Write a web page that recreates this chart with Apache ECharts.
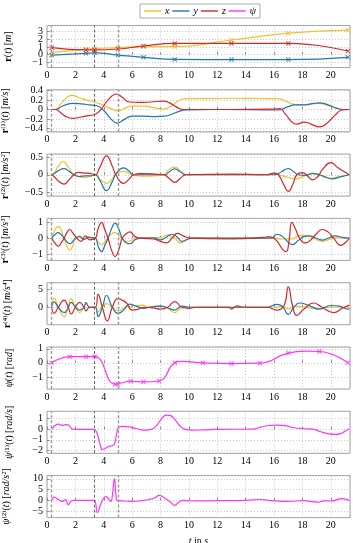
<!DOCTYPE html>
<html>
<head>
<meta charset="utf-8">
<script src="https://cdn.jsdelivr.net/npm/echarts@6/dist/echarts.min.js"></script>
<style>
  html, body { margin: 0; background: #fff; }
  #main { width: 353px; height: 543px; }
</style>
</head>
<body>
<div id="main"></div>
<script>
// waypoint times and values for position
const posTimes = [0.33, 2.75, 3.35, 5.0, 6.8, 9.0, 13.0, 17.0, 21.2];
const posX = [0.24, 0.68, 0.77, 0.9, 1.03, 1.03, 1.9, 2.8, 3.2];
const posY = [-0.07, 0.15, 0.22, -0.07, -0.37, -0.64, -0.66, -0.66, -0.37];
const posZ = [0.9, 0.6, 0.6, 0.72, 1.12, 1.45, 1.45, 1.45, 0.46];

// yaw waypoints
const yawTimes = [0.33, 1.6, 2.75, 3.35, 4.8, 5.0, 5.9, 6.8, 7.9, 9.0, 11.0, 13.0, 15.0, 17.0, 19.2, 21.2];
const yawVals = [0, 0.44, 0.44, 0.46, -1.52, -1.5, -1.31, -1.35, -1.29, 0, 0, -0.05, -0.02, 0.7, 0.81, 0];
const yawExtra = [[9.5, 0.1], [18.2, 0.83]];

// velocity
const velX = [[0.33,0],[0.6,0],[1.0,0.13],[1.4,0.26],[1.75,0.3],[2.3,0.25],[2.8,0.2],[3.35,0.16],[3.9,0.1],[4.5,0.02],[5.0,-0.03],[5.5,0.03],[6.1,0.07],[6.8,0.07],[7.5,0.04],[8.2,0.01],[8.7,0.06],[9.2,0.17],[9.7,0.23],[11,0.23],[13,0.24],[15,0.235],[16.3,0.23],[16.8,0.18],[17.4,0.11],[18,0.1],[18.6,0.12],[19.2,0.13],[19.7,0.1],[20.3,0.04],[20.8,0],[21.3,0]];
const velY = [[0.33,0],[0.6,0],[1.0,0.06],[1.4,0.11],[1.8,0.13],[2.4,0.12],[3.0,0.1],[3.5,0.08],[4.0,-0.02],[4.5,-0.2],[4.95,-0.29],[5.4,-0.22],[6.0,-0.14],[6.8,-0.14],[7.6,-0.15],[8.3,-0.14],[8.8,-0.1],[9.3,-0.04],[9.8,-0.01],[12,0],[16.3,-0.01],[16.9,0.05],[17.5,0.1],[18.2,0.1],[18.8,0.13],[19.2,0.14],[19.8,0.1],[20.4,0.03],[20.9,0],[21.3,0]];
const velZ = [[0.33,0],[0.6,0],[1.0,-0.08],[1.4,-0.16],[1.8,-0.19],[2.4,-0.16],[2.9,-0.13],[3.4,-0.1],[3.8,0],[4.3,0.2],[4.9,0.33],[5.3,0.26],[5.8,0.16],[6.5,0.15],[7.3,0.16],[8.2,0.18],[8.7,0.13],[9.2,0.04],[9.6,0],[13,0],[16,0.01],[16.4,0.02],[16.8,-0.1],[17.3,-0.28],[17.6,-0.31],[18.1,-0.27],[18.6,-0.31],[19.2,-0.37],[19.7,-0.3],[20.3,-0.12],[20.8,-0.01],[21.3,0]];

// acceleration
const accX = [[0.33,0],[0.5,0.05],[0.8,0.25],[1.15,0.38],[1.5,0.22],[1.9,0],[2.3,-0.06],[2.7,-0.08],[3.0,-0.05],[3.4,0],[3.8,-0.15],[4.2,-0.25],[4.6,-0.12],[4.9,0.05],[5.4,0.1],[5.8,0.04],[6.2,-0.02],[6.7,-0.04],[7.5,-0.03],[8.2,0],[8.6,0.15],[9.0,0.22],[9.4,0.12],[9.8,0],[12,0],[15.5,0],[16,0.04],[16.5,-0.02],[17,-0.08],[17.5,-0.12],[18,-0.06],[18.7,0.05],[19.2,0],[19.6,-0.07],[20,-0.1],[20.5,-0.06],[21.3,0]];
const accY = [[0.33,0],[0.5,0.03],[0.8,0.12],[1.2,0.18],[1.55,0.1],[1.9,0],[2.3,-0.05],[2.7,-0.03],[3.1,-0.03],[3.4,0],[3.7,-0.15],[4.2,-0.46],[4.6,-0.2],[4.9,0.05],[5.4,0.2],[5.8,0.1],[6.1,0],[8.3,0],[8.6,0.08],[9.0,0.17],[9.4,0.08],[9.8,0],[16,0],[16.5,0.08],[17,0.18],[17.4,0.08],[17.7,0],[18.2,-0.02],[18.7,0.03],[19.2,0],[19.7,-0.08],[20.1,-0.12],[20.6,-0.07],[21.3,0]];
const accZ = [[0.33,0],[0.5,-0.05],[0.8,-0.18],[1.2,-0.27],[1.55,-0.15],[1.9,0],[2.2,0.07],[2.6,0.05],[2.9,0.05],[3.4,0],[3.7,0.2],[4.2,0.55],[4.6,0.25],[4.85,0],[5.4,-0.25],[5.8,-0.12],[6.1,0],[6.6,0.03],[8.2,0],[8.6,-0.1],[9.0,-0.22],[9.4,-0.1],[9.8,0],[13,0.02],[15.5,0],[16,0.05],[16.3,0],[16.7,-0.3],[17,-0.48],[17.3,-0.3],[17.6,0],[18,0.06],[18.4,-0.05],[18.7,-0.15],[19.1,-0.05],[19.4,0.15],[20,0.35],[20.5,0.2],[21.3,0]];

// jerk
const jerkX = [[0.33,0],[0.55,0.5],[0.8,0.75],[1.0,0.5],[1.2,0],[1.4,-0.5],[1.6,-0.75],[1.8,-0.5],[2.0,0],[2.3,0.15],[2.6,-0.1],[2.9,0.1],[3.1,0],[3.4,0],[3.6,-0.25],[3.85,-0.4],[4.05,-0.25],[4.25,0],[4.5,0.25],[4.75,0.35],[5.0,0.25],[5.25,0],[5.6,-0.2],[5.9,-0.15],[6.3,0],[7,0.02],[8.0,0.05],[8.5,0.2],[9.0,0],[9.4,-0.3],[9.8,-0.15],[10.1,0],[16,0],[16.5,-0.05],[17.2,-0.05],[17.6,0.1],[18,0.2],[18.5,0.1],[19,-0.1],[19.4,-0.2],[19.8,-0.1],[20.4,0.02],[21.3,0]];
const jerkY = [[0.33,0],[0.55,0.22],[0.8,0.35],[1.0,0.22],[1.2,0],[1.4,-0.22],[1.6,-0.35],[1.8,-0.22],[2.0,0],[2.3,0.1],[2.6,-0.08],[2.9,0.05],[3.4,0],[3.6,-0.5],[3.85,-0.85],[4.05,-0.5],[4.3,0],[4.55,0.6],[4.8,0.95],[5.05,0.6],[5.3,0],[5.6,-0.3],[5.85,-0.35],[6.2,-0.1],[6.6,0],[7.5,0.02],[8.0,-0.1],[8.3,0],[8.8,0.25],[9.2,0.05],[9.5,-0.2],[9.8,-0.1],[10.2,0],[15.8,0],[16.2,0.25],[16.6,0.1],[17.0,-0.25],[17.3,-0.4],[17.7,-0.15],[18.1,0.1],[18.5,0.15],[19,0],[19.4,-0.12],[19.8,0],[20.3,0.15],[20.8,0.05],[21.3,0]];
const jerkZ = [[0.33,0],[0.55,-0.3],[0.8,-0.5],[1.0,-0.3],[1.2,0],[1.4,0.35],[1.6,0.55],[1.8,0.35],[2.1,0],[2.4,-0.2],[2.7,0.15],[3.0,-0.1],[3.4,0],[3.6,0.6],[3.85,1.0],[4.05,0.6],[4.3,0],[4.55,-0.75],[4.8,-1.15],[5.05,-0.75],[5.3,0],[5.6,0.3],[5.85,0.4],[6.2,0.1],[6.6,0],[7.5,-0.05],[8.0,-0.2],[8.4,-0.3],[8.8,0],[9.2,0.3],[9.6,0.15],[10.1,0],[13,-0.05],[15.3,0.05],[15.6,0.1],[16.0,0],[16.3,-0.3],[16.6,-0.7],[16.85,-0.85],[17.05,-0.2],[17.25,1.0],[17.5,0.6],[17.8,0],[18.2,-0.3],[18.6,-0.1],[19.0,0.3],[19.4,0.55],[19.8,0.4],[20.2,0],[20.7,-0.45],[21.0,-0.3],[21.3,0]];

// snap
const snapX = [[0.33,0],[0.5,2.5],[0.8,0],[1.2,-2.7],[1.5,0],[1.7,2.4],[2.0,0],[2.3,-1.5],[2.6,0],[2.75,1.0],[3.0,0],[3.4,0],[3.55,-1.4],[3.85,0],[4.2,1.0],[4.6,0],[5.0,-1.0],[5.3,-0.6],[5.6,0.2],[6.0,0.3],[6.8,0.6],[7.0,0],[7.8,0.4],[8.3,0.2],[9.0,-1.5],[9.5,-0.2],[10.2,0],[16,0],[16.6,0.2],[17.0,-0.5],[17.5,0.3],[18.2,0],[19,-0.4],[20,0],[21.3,0]];
const snapY = [[0.33,0],[0.5,1.5],[0.8,0],[1.2,-1.5],[1.5,0],[1.7,1.4],[2.0,0],[2.3,-0.8],[2.6,0],[2.75,1.3],[3.0,0],[3.4,0],[3.6,-2.6],[3.9,0],[4.2,3.3],[4.6,0],[5.0,-1.7],[5.4,-0.8],[5.8,0.9],[6.3,0.3],[6.8,-0.3],[7.2,0],[8,0.3],[8.5,-0.2],[9.0,-0.8],[9.5,0.3],[10.2,0],[15.5,0],[16.2,0.8],[16.6,0.2],[17.0,-2.0],[17.4,0],[17.8,1.2],[18.5,0.4],[19.2,-0.5],[20,0.5],[20.6,0.3],[21.2,-0.5],[21.3,-0.3]];
const snapZ = [[0.33,0],[0.5,-1.7],[0.8,0],[1.2,2.0],[1.5,0],[1.7,-1.9],[2.0,0],[2.3,1.4],[2.6,0],[2.75,-1.0],[3.0,0],[3.4,0],[3.6,3.6],[3.9,0],[4.25,-3.8],[4.6,0],[5.0,2.4],[5.3,2.0],[5.6,1.2],[6.0,-0.8],[6.4,-0.6],[6.8,0],[7.5,-0.2],[8.0,-0.5],[8.5,0],[9.0,1.6],[9.5,0],[10,-0.3],[10.5,0],[12.8,0],[13.0,-0.5],[13.4,0.4],[13.8,0],[15.5,0],[16.2,-0.8],[16.7,0.5],[17.0,5.7],[17.3,0.5],[17.6,-2.3],[18.1,-0.5],[18.8,1.2],[19.3,0.2],[20.2,-1.5],[20.8,-0.3],[21.3,0.6]];

// yaw rate and yaw acceleration
const yawRate = [[0.33,0],[0.55,0.3],[0.8,0.45],[1.1,0.35],[1.4,0.42],[1.6,0.25],[1.8,0],[2.2,-0.03],[3.3,-0.02],[3.5,-0.3],[3.7,-1.2],[3.9,-1.9],[4.1,-1.8],[4.35,-1.62],[4.6,-1.55],[4.75,-1.4],[4.9,-0.5],[5.05,0.15],[5.3,0.25],[5.8,0.2],[6.3,0.05],[6.8,-0.1],[7.3,-0.05],[7.7,0.3],[8.1,1.0],[8.4,1.3],[8.7,1.25],[9.0,0.9],[9.3,0.4],[9.7,0],[10.2,-0.1],[11,-0.08],[12,-0.03],[14.5,0],[15.0,0.15],[15.6,0.33],[16.2,0.37],[16.8,0.32],[17.4,0.12],[18.2,0.03],[18.8,-0.03],[19.3,-0.25],[19.8,-0.42],[20.3,-0.5],[20.7,-0.42],[21.0,-0.2],[21.3,0]];
const yawAcc = [[0.33,0],[0.5,1.5],[0.7,0.8],[0.9,0],[1.1,-0.5],[1.3,0.3],[1.5,-2.0],[1.7,-0.3],[1.9,0],[3.3,0],[3.55,-5.7],[3.8,-1.5],[4.0,1.0],[4.15,1.7],[4.35,0.5],[4.5,-0.5],[4.6,2],[4.75,10],[4.85,3],[4.95,0],[5.5,-0.3],[6.0,-0.5],[6.7,-0.1],[7.2,0.4],[7.6,1.2],[7.9,2.3],[8.3,1.0],[8.7,-0.8],[9.0,-2.3],[9.3,-0.8],[9.6,0],[10,-0.3],[11,-0.2],[14,0],[15,0.4],[15.6,0],[17,-0.5],[18,-0.1],[19.1,-0.8],[19.5,-0.2],[20,-0.3],[20.8,0.8],[21.3,0]];

const xTicks = [0, 2, 4, 6, 8, 10, 12, 14, 16, 18, 20];
const segTimes = [0.33, 3.35, 5.0];

const colors = { x: '#f2c12e', y: '#1f77b4', z: '#d62728', psi: '#ff33ff' };
const serif = 'Liberation Serif, DejaVu Serif, serif';
const rich = {
  b: { fontWeight: 'bold', fontFamily: serif, fontSize: 10, color: '#000' },
  i: { fontStyle: 'italic', fontFamily: serif, fontSize: 10, color: '#000' }
};

const panels = [
  { min: -1.7, max: 3.8, step: 1, gap: 34, name: '{b|r}({i|t}) [{i|m}]' },
  { min: -0.475, max: 0.42, step: 0.2, gap: 37, name: '{b|r}⁽¹⁾({i|t}) [{i|m/s}]' },
  { min: -0.62, max: 0.6, step: 0.5, gap: 37, name: '{b|r}⁽²⁾({i|t}) [{i|m/s²}]' },
  { min: -1.4, max: 1.25, step: 1, gap: 37, name: '{b|r}⁽³⁾({i|t}) [{i|m/s³}]' },
  { min: -4.9, max: 6.9, step: 5, gap: 35, name: '{b|r}⁽⁴⁾({i|t}) [{i|m/s⁴}]' },
  { min: -1.86, max: 1.13, step: 1, gap: 33, name: '{i|ψ}({i|t}) [{i|rad}]' },
  { min: -2.25, max: 1.65, step: 1, gap: 33, name: '{i|ψ}⁽¹⁾({i|t}) [{i|rad/s}]' },
  { min: -8, max: 11.5, step: 5, gap: 36, name: '{i|ψ}⁽²⁾({i|t}) [{i|rad/s²}]' }
];

const crossPath = 'path://M0,1.5L1.5,0L5,3.5L8.5,0L10,1.5L6.5,5L10,8.5L8.5,10L5,6.5L1.5,10L0,8.5L3.5,5Z';

const grids = [], xAxes = [], yAxes = [], series = [];
panels.forEach(function (p, i) {
  grids.push({
    left: 47, right: 3, top: 25.5 + 64.3 * i, height: 42,
    outerBoundsMode: 'none', containLabel: false,
    show: true, borderColor: '#888', borderWidth: 0.8
  });
  xAxes.push({
    type: 'value', gridIndex: i, min: 0, max: 21.35, interval: 2,
    axisLine: { show: false },
    axisTick: { inside: true, length: 2.5, lineStyle: { color: '#888' } },
    axisLabel: { margin: 3, fontSize: 10, fontFamily: serif, color: '#000', showMaxLabel: false,
      formatter: function (v) { return xTicks.indexOf(v) >= 0 ? String(v) : ''; } },
    splitLine: { show: true, lineStyle: { color: '#bbb', type: [1, 2], width: 0.8 } },
    name: i === panels.length - 1 ? '{i|t} in {i|s}' : '',
    nameLocation: 'middle', nameGap: 19,
    nameTextStyle: { fontFamily: serif, fontSize: 10, color: '#000', rich: rich }
  });
  yAxes.push({
    type: 'value', gridIndex: i, min: p.min, max: p.max,
    minInterval: p.step, maxInterval: p.step,
    axisLine: { show: false },
    axisTick: { inside: true, length: 2.5, lineStyle: { color: '#888' } },
    axisLabel: { margin: 4, fontSize: 10, fontFamily: serif, color: '#000',
      showMinLabel: false, showMaxLabel: false,
      formatter: function (v) { return v < 0 ? '−' + String(-v) : String(v); } },
    splitLine: { show: true, lineStyle: { color: '#bbb', type: [1, 2], width: 0.8 } },
    name: p.name, nameLocation: 'middle', nameRotate: 90, nameGap: p.gap,
    nameTextStyle: { fontFamily: serif, fontSize: 10, color: '#000', rich: rich }
  });
});

function line(name, color, data, gi, extra) {
  const s = {
    type: 'line', name: name, xAxisIndex: gi, yAxisIndex: gi, data: data,
    showSymbol: false, smooth: 0.5,
    lineStyle: { color: color, width: 1.2 }, itemStyle: { color: color }, silent: true
  };
  return Object.assign(s, extra || {});
}
function marks(name, color, data, gi) {
  return {
    type: 'scatter', name: name, xAxisIndex: gi, yAxisIndex: gi, data: data,
    symbol: crossPath, symbolSize: 5, itemStyle: { color: color }, z: 3, silent: true
  };
}
function segLines() {
  return {
    silent: true, symbol: 'none', label: { show: false }, animation: false,
    data: segTimes.map(function (t, k) {
      return { xAxis: t, lineStyle: k === 1
        ? { color: '#444', width: 0.8, type: [3, 2] }
        : { color: '#999', width: 1.4, type: [3, 2] } };
    })
  };
}
function zip(ts, vs) { return ts.map(function (t, k) { return [t, vs[k]]; }); }

// panel 0: position
series.push(line('x', colors.x, zip(posTimes, posX), 0, { markLine: segLines() }));
series.push(line('y', colors.y, zip(posTimes, posY), 0));
series.push(line('z', colors.z, zip(posTimes, posZ), 0));
series.push(marks('x', colors.x, zip(posTimes, posX), 0));
series.push(marks('y', colors.y, zip(posTimes, posY), 0));
series.push(marks('z', colors.z, zip(posTimes, posZ), 0));

const deriv = [[velX, velY, velZ], [accX, accY, accZ], [jerkX, jerkY, jerkZ], [snapX, snapY, snapZ]];
deriv.forEach(function (set, k) {
  const gi = k + 1;
  series.push(line('x', colors.x, set[0], gi, { markLine: segLines() }));
  series.push(line('y', colors.y, set[1], gi));
  series.push(line('z', colors.z, set[2], gi));
});

const yawLine = zip(yawTimes, yawVals).concat(yawExtra).sort(function (a, b) { return a[0] - b[0]; });
series.push(line('ψ', colors.psi, yawLine, 5, { markLine: segLines() }));
series.push(marks('ψ', colors.psi, zip(yawTimes, yawVals), 5));
series.push(line('ψ', colors.psi, yawRate, 6, { markLine: segLines() }));
series.push(line('ψ', colors.psi, yawAcc, 7, { markLine: segLines() }));

const chart = echarts.init(document.getElementById('main'));
chart.setOption({
  animation: false,
  backgroundColor: '#fff',
  legend: {
    top: 4, left: 140,
    data: ['x', 'y', 'z', 'ψ'].map(function (n) {
      return { name: n, icon: 'rect' };
    }),
    itemWidth: 17, itemHeight: 1.4, itemGap: 3,
    padding: [2, 4], borderColor: '#999', borderWidth: 0.8,
    textStyle: { fontFamily: serif, fontStyle: 'italic', fontSize: 10, color: '#000', padding: [0, 0, 0, -1] },
    selectedMode: false
  },
  grid: grids,
  xAxis: xAxes,
  yAxis: yAxes,
  series: series
});
</script>
</body>
</html>
